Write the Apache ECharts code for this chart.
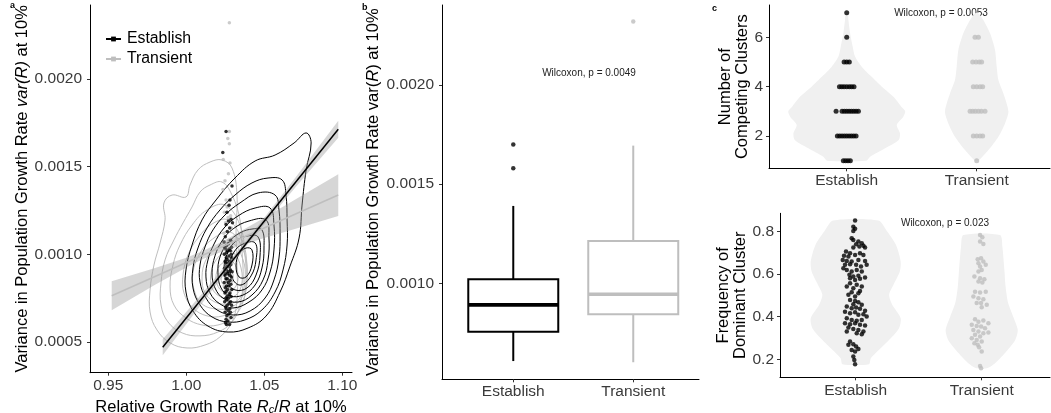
<!DOCTYPE html>
<html><head><meta charset="utf-8">
<script src="https://cdn.jsdelivr.net/npm/echarts@6/dist/echarts.min.js"></script>
<style>html,body{margin:0;padding:0;background:#fff}#c{width:1051px;height:413px}</style>
</head><body><div id="c"></div>
<script>
// ---------- Panel a: scatter values ----------
const estX = [1.0255,1.0234,1.0293,1.0280,1.0274,1.0261,1.0287,1.0270,1.0296,1.0255,1.0278,1.0263,1.0250,1.0284,1.0242,1.0271,1.0258,1.0290,1.0246,1.0276,1.0253,1.0282,1.0265,
 1.0259,1.0288,1.0244,1.0273,1.0256,1.0291,1.0262,1.0249,1.0279,1.0268,1.0252,1.0285,1.0260,1.0275,1.0245,1.0283,1.0257,1.0270,1.0294,1.0251,1.0266,
 1.0277,1.0247,1.0289,1.0263,1.0254,1.0281,1.0269,1.0243,1.0286,1.0258,1.0272,1.0250,1.0292,1.0264,1.0255,1.0280,1.0248,1.0276,1.0261,1.0287,1.0253,
 1.0270,1.0259,1.0284,1.0246,1.0274,1.0262,1.0290,1.0252,1.0279,1.0256,1.0268,1.0283,1.0249,1.0272,1.0260,1.0287,1.0255,1.0266,1.0251,1.0277,1.0258];
const estVar = [0.00170,0.00158,0.00139,0.00131,0.00128,0.00124,0.00120,0.00119,0.00118,0.00117,0.00115,0.00113,0.00110,0.00108,0.00107,0.00106,0.00105,0.00104,0.00104,0.00103,0.00103,0.00102,0.00102,
 0.00101,0.00100,0.00100,0.00099,0.00098,0.00098,0.00097,0.00096,0.00096,0.00095,0.00095,0.00094,0.00093,0.00093,0.00092,0.00091,0.00091,0.00090,0.00090,0.00089,0.00089,
 0.00088,0.00088,0.00087,0.00086,0.00086,0.00085,0.00084,0.00084,0.00083,0.00082,0.00082,0.00081,0.00080,0.00080,0.00079,0.00078,0.00078,0.00077,0.00076,0.00076,0.00075,
 0.00075,0.00074,0.00073,0.00073,0.00072,0.00071,0.00071,0.00070,0.00069,0.00069,0.00068,0.00067,0.00067,0.00066,0.00065,0.00064,0.00063,0.00062,0.00061,0.00060,0.00060];
const trnX = [1.0276,1.0276,1.0266,1.0276,1.0237,1.0280,1.0270,1.0248,1.0235,1.0255,1.0262,1.0244,1.0284,
 1.0268,1.0252,1.0289,1.0241,1.0273,1.0258,1.0286,1.0247,1.0279,1.0264,1.0250,
 1.0291,1.0257,1.0272,1.0245,1.0283,1.0262,1.0239,1.0277,1.0254,1.0288,1.0266,1.0249,
 1.0274,1.0243,1.0281,1.0259,1.0269,1.0251,1.0286,1.0261,1.0246,1.0278,1.0256];
const trnVar = [0.00232,0.00170,0.00166,0.00163,0.00154,0.00152,0.00146,0.00142,0.00137,0.00131,0.00127,0.00124,0.00122,
 0.00121,0.00118,0.00115,0.00112,0.00108,0.00105,0.00102,0.00100,0.00098,0.00096,0.00095,
 0.00095,0.00094,0.00093,0.00092,0.00091,0.00090,0.00089,0.00088,0.00087,0.00086,0.00085,0.00084,
 0.00083,0.00082,0.00080,0.00078,0.00076,0.00074,0.00072,0.00070,0.00067,0.00064,0.00060];

// regression lines and confidence bands
const estLineX = [0.9849, 1.0974];
const estLineY = [0.000470, 0.001713];
const trnLineX = [0.9522, 1.0974];
const trnLineY = [0.000764, 0.001338];
const estBandX  = [0.9849, 1.01, 1.04, 1.07, 1.0974];
const estBandLo = [0.000424, 0.000719, 0.001064, 0.001382, 0.001665];
const estBandHi = [0.000516, 0.000775, 0.001094, 0.001438, 0.001761];
const trnBandX  = [0.9522, 0.98, 1.0, 1.011, 1.025, 1.05, 1.075, 1.0974];
const trnBandLo = [0.000681, 0.000826, 0.000925, 0.000974, 0.001022, 0.001093, 0.001159, 0.001219];
const trnBandHi = [0.000847, 0.000922, 0.000981, 0.001020, 0.001082, 0.001209, 0.001339, 0.001457];

// 2D density contours (outer to inner)
const estContours = [
 [[1.0768,0.001692],[1.0800,0.001635],[1.0768,0.001481],[1.0742,0.001281],[1.0723,0.001093],[1.0665,0.000933],[1.0601,0.000785],[1.0511,0.000648],[1.0396,0.000580],[1.0268,0.000557],[1.0139,0.000591],[1.0043,0.000677],[0.9998,0.000785],[0.9998,0.000911],[1.0037,0.001053],[1.0101,0.001196],[1.0191,0.001310],[1.0312,0.001435],[1.0441,0.001532],[1.0569,0.001566],[1.0691,0.001635]],
 [[1.0614,0.001424],[1.0639,0.001338],[1.0646,0.001196],[1.0646,0.001053],[1.0620,0.000911],[1.0569,0.000785],[1.0485,0.000683],[1.0376,0.000626],[1.0267,0.000614],[1.0165,0.000643],[1.0088,0.000711],[1.0043,0.000808],[1.0043,0.000922],[1.0075,0.001036],[1.0133,0.001150],[1.0216,0.001253],[1.0312,0.001338],[1.0421,0.001407],[1.0524,0.001435]],
 [[1.0569,0.001338],[1.0594,0.001253],[1.0601,0.001110],[1.0594,0.000979],[1.0562,0.000854],[1.0505,0.000751],[1.0409,0.000677],[1.0300,0.000654],[1.0197,0.000683],[1.0126,0.000751],[1.0088,0.000842],[1.0088,0.000939],[1.0120,0.001042],[1.0171,0.001139],[1.0248,0.001224],[1.0344,0.001293],[1.0460,0.001350]],
 [[1.0537,0.001264],[1.0562,0.001167],[1.0562,0.001025],[1.0537,0.000899],[1.0485,0.000797],[1.0402,0.000728],[1.0300,0.000694],[1.0216,0.000717],[1.0152,0.000780],[1.0126,0.000871],[1.0139,0.000968],[1.0178,0.001059],[1.0242,0.001150],[1.0332,0.001219],[1.0441,0.001264]],
 [[1.0511,0.001196],[1.0530,0.001093],[1.0524,0.000968],[1.0492,0.000854],[1.0421,0.000768],[1.0332,0.000728],[1.0242,0.000746],[1.0184,0.000808],[1.0165,0.000894],[1.0184,0.000991],[1.0229,0.001076],[1.0300,0.001145],[1.0402,0.001190]],
 [[1.0485,0.001139],[1.0498,0.001036],[1.0485,0.000922],[1.0441,0.000825],[1.0364,0.000768],[1.0280,0.000763],[1.0223,0.000808],[1.0203,0.000894],[1.0216,0.000985],[1.0267,0.001065],[1.0344,0.001122],[1.0428,0.001145]],
 [[1.0460,0.001099],[1.0473,0.000996],[1.0447,0.000882],[1.0389,0.000808],[1.0312,0.000797],[1.0261,0.000842],[1.0242,0.000922],[1.0267,0.001013],[1.0319,0.001076],[1.0396,0.001105]],
 [[1.0441,0.001065],[1.0447,0.000968],[1.0415,0.000877],[1.0351,0.000825],[1.0300,0.000854],[1.0280,0.000934],[1.0306,0.001013],[1.0364,0.001059]],
 [[1.0421,0.001025],[1.0421,0.000939],[1.0383,0.000871],[1.0338,0.000871],[1.0319,0.000934],[1.0338,0.001002],[1.0383,0.001036]]
];
const trnContours = [
 [[1.0229,0.001538],[1.0293,0.001492],[1.0325,0.001338],[1.0319,0.001139],[1.0325,0.000939],[1.0325,0.000740],[1.0293,0.000614],[1.0216,0.000529],[1.0120,0.000483],[1.0005,0.000466],[0.9896,0.000495],[0.9812,0.000569],[0.9768,0.000671],[0.9768,0.000797],[0.9793,0.000939],[0.9832,0.001065],[0.9864,0.001196],[0.9857,0.001293],[0.9909,0.001338],[0.9998,0.001327],[1.0024,0.001395],[1.0075,0.001481],[1.0152,0.001526]],
 [[1.0229,0.001412],[1.0293,0.001338],[1.0344,0.001196],[1.0357,0.001025],[1.0364,0.000854],[1.0344,0.000711],[1.0293,0.000614],[1.0203,0.000557],[1.0088,0.000535],[0.9973,0.000552],[0.9883,0.000614],[0.9838,0.000711],[0.9838,0.000837],[0.9864,0.000968],[0.9921,0.001082],[0.9979,0.001179],[1.0037,0.001270],[1.0088,0.001355],[1.0152,0.001395]],
 [[1.0248,0.001281],[1.0344,0.001167],[1.0376,0.000996],[1.0383,0.000825],[1.0357,0.000711],[1.0293,0.000637],[1.0203,0.000597],[1.0101,0.000597],[0.9998,0.000637],[0.9921,0.000711],[0.9896,0.000814],[0.9915,0.000939],[0.9960,0.001053],[1.0037,0.001167],[1.0133,0.001253]],
 [[1.0267,0.001196],[1.0357,0.001082],[1.0389,0.000939],[1.0383,0.000797],[1.0332,0.000694],[1.0235,0.000649],[1.0133,0.000649],[1.0043,0.000694],[0.9985,0.000780],[0.9979,0.000882],[1.0011,0.000996],[1.0075,0.001093],[1.0165,0.001173]],
 [[1.0280,0.001127],[1.0364,0.001025],[1.0389,0.000899],[1.0364,0.000768],[1.0293,0.000700],[1.0197,0.000688],[1.0101,0.000717],[1.0050,0.000797],[1.0043,0.000899],[1.0082,0.000996],[1.0152,0.001076]],
 [[1.0293,0.001065],[1.0364,0.000968],[1.0376,0.000854],[1.0344,0.000751],[1.0267,0.000717],[1.0184,0.000728],[1.0120,0.000780],[1.0101,0.000871],[1.0126,0.000968],[1.0191,0.001036]],
 [[1.0300,0.001013],[1.0351,0.000922],[1.0351,0.000814],[1.0300,0.000757],[1.0223,0.000757],[1.0165,0.000808],[1.0159,0.000894],[1.0191,0.000968],[1.0248,0.001013]],
 [[1.0300,0.000956],[1.0332,0.000877],[1.0306,0.000803],[1.0242,0.000785],[1.0197,0.000831],[1.0197,0.000905],[1.0242,0.000956]],
 [[1.0287,0.000911],[1.0300,0.000854],[1.0267,0.000820],[1.0229,0.000837],[1.0229,0.000888],[1.0255,0.000917]]
];
const aXTicks = [0.95, 1.00, 1.05, 1.10];
const aYTicks = [0.0005, 0.0010, 0.0015, 0.0020];

// ---------- Panel b: box plot ----------
const boxCategories = ['Establish', 'Transient'];
const boxMin    = [0.000608, 0.000602];
const boxQ1     = [0.000756, 0.000844];
const boxMedian = [0.000891, 0.000945];
const boxQ3     = [0.001020, 0.001213];
const boxMax    = [0.001390, 0.001694];
const estOutliers = [0.00170, 0.00158];
const trnOutliers = [0.00232];
const bYTicks = [0.0010, 0.0015, 0.0020];

// ---------- Panel c (top): number of competing clusters ----------
const estClusters    = [7,6,5,5,5,4,4,4,4,4,4,4,3,3,3,3,3,3,3,3,3,2,2,2,2,2,2,2,2,2,1,1,1,1];
const estClustersJit = [0,0,-0.02,0,0.02,-0.056,-0.038,-0.02,0,0.02,0.038,0.056,-0.082,-0.036,-0.018,0,0.018,0.036,0.054,0.072,0.09,-0.072,-0.054,-0.036,-0.018,0,0.018,0.036,0.054,0.072,-0.026,-0.008,0.01,0.028];
const trnClusters    = [6,6,5,5,5,5,4,4,4,4,3,3,3,3,3,3,2,2,2,2,1];
const trnClustersJit = [-0.013,0.013,-0.031,-0.005,0.02,0.038,-0.026,0,0.026,0.046,-0.051,-0.031,-0.01,0.013,0.036,0.064,-0.026,0,0.026,0.046,0];
const estClViolinV = [7, 6.7, 6.16, 5.62, 5.22, 4.81, 4.41, 4, 3.59, 3.19, 3, 2.78, 2.45, 2.11, 1.84, 1.5, 1.16, 1];
const estClViolinW = [0.008, 0.013, 0.026, 0.046, 0.064, 0.115, 0.19, 0.27, 0.36, 0.42, 0.45, 0.435, 0.385, 0.41, 0.40, 0.295, 0.18, 0.15];
const trnClViolinV = [6.97, 6.7, 6.16, 5.49, 4.81, 4.27, 3.73, 2.99, 2.51, 1.97, 1.43, 1];
const trnClViolinW = [0.013, 0.051, 0.103, 0.141, 0.154, 0.167, 0.205, 0.244, 0.218, 0.167, 0.09, 0.013];
const cTopYTicks = [2, 4, 6];

// ---------- Panel c (bottom): frequency of dominant cluster ----------
const estFreq = [0.852,0.823,0.813,0.803,0.769,0.761,0.753,0.745,0.741,0.734,0.730,0.725,0.725,0.706,0.698,0.687,0.683,0.690,0.698,0.690,0.667,0.662,0.659,0.667,0.662,0.644,0.647,0.644,0.636,0.644,0.620,0.612,0.620,0.612,0.628,0.597,0.589,0.593,0.573,0.581,0.578,0.584,0.557,0.550,0.542,0.542,0.534,0.515,0.510,0.503,0.495,0.521,0.479,0.474,0.468,0.459,0.456,0.448,0.440,0.443,0.437,0.428,0.424,0.417,0.421,0.409,0.412,0.401,0.393,0.385,0.381,0.385,0.370,0.365,0.370,0.362,0.359,0.349,0.343,0.338,0.331,0.331,0.318,0.323,0.284,0.271,0.260,0.268,0.249,0.244,0.237,0.213,0.197,0.177];
const estFreqJit = [-0.005,-0.019,-0.005,-0.019,-0.032,-0.019,0.021,0.048,0.003,0.061,0.029,-0.019,0.074,-0.077,-0.045,-0.093,-0.058,-0.005,0.034,0.061,-0.103,-0.071,-0.032,0.021,0.074,-0.085,-0.045,0.003,0.042,0.087,-0.071,-0.032,0.008,0.048,-0.098,-0.050,-0.019,0.021,-0.005,-0.045,0.034,0.074,-0.045,0.008,0.048,-0.071,-0.019,-0.032,0.021,-0.058,-0.005,0.034,-0.045,-0.005,0.021,-0.019,0.048,-0.071,-0.032,0.003,0.034,0.074,-0.085,-0.045,-0.005,0.021,0.061,0.087,-0.071,-0.032,0.008,0.048,-0.085,-0.045,-0.005,0.034,0.074,-0.058,-0.019,0.021,0.061,-0.071,0.048,0.008,-0.045,-0.019,0.003,-0.058,0.021,-0.032,-0.005,-0.019,-0.011,-0.005];
const trnFreq = [0.784,0.773,0.753,0.742,0.670,0.675,0.659,0.651,0.644,0.636,0.620,0.612,0.589,0.581,0.576,0.565,0.561,0.518,0.514,0.518,0.495,0.487,0.482,0.464,0.464,0.456,0.445,0.388,0.377,0.382,0.370,0.362,0.357,0.354,0.346,0.338,0.331,0.323,0.326,0.315,0.307,0.299,0.291,0.284,0.276,0.268,0.257,0.237,0.169,0.158];
const trnFreqJit = [-0.013,0.005,-0.013,0.013,-0.032,-0.005,0.013,-0.026,0.032,-0.013,0,-0.026,-0.058,-0.013,0.021,-0.026,0.005,-0.053,-0.013,0.032,-0.066,-0.026,0.013,-0.005,-0.040,0.040,0,-0.053,-0.026,0.013,0.053,-0.079,-0.040,-0.005,0.026,-0.066,-0.026,0.013,0.053,-0.053,-0.013,-0.079,-0.040,0,-0.058,-0.032,-0.021,0,-0.013,-0.005];
const estFrViolinV = [0.852, 0.8, 0.737, 0.659, 0.612, 0.55, 0.503, 0.456, 0.393, 0.346, 0.3, 0.253, 0.205, 0.177];
const estFrViolinW = [0.18, 0.25, 0.32, 0.357, 0.35, 0.30, 0.265, 0.29, 0.357, 0.344, 0.28, 0.2, 0.12, 0.105];
const trnFrViolinV = [0.784, 0.73, 0.62, 0.54, 0.464, 0.40, 0.338, 0.29, 0.23, 0.182, 0.158];
const trnFrViolinW = [0.145, 0.164, 0.18, 0.19, 0.21, 0.25, 0.286, 0.265, 0.185, 0.106, 0.04];
const cBotYTicks = [0.2, 0.4, 0.6, 0.8];

// ---------- rendering ----------
const FONT = '"Liberation Sans", Arial, Helvetica, sans-serif';
const TICK_FS = 15.5, TITLE_FS = 16.5;
const BLACK = '#000000', GREY = '#bebebe', VIOLIN = '#f0f0f0';
const chart = echarts.init(document.getElementById('c'), null, {renderer: 'canvas'});

function polySeries(gi, pts, style, z, smooth) {
  return {type: 'custom', xAxisIndex: gi, yAxisIndex: gi, silent: true, z: z, clip: true,
    data: [pts[0]],
    renderItem: function (params, api) {
      return {type: 'polygon', shape: {points: pts.map(function (q) { return api.coord(q); }), smooth: smooth},
        style: style};
    }};
}
function bandPts(xs, lo, hi) {
  const p = [];
  for (let i = 0; i < xs.length; i++) p.push([xs[i], hi[i]]);
  for (let i = xs.length - 1; i >= 0; i--) p.push([xs[i], lo[i]]);
  return p;
}
function violinPts(pos, vs, ws) {
  const p = [];
  for (let i = 0; i < vs.length; i++) p.push([pos + ws[i], vs[i]]);
  for (let i = vs.length - 1; i >= 0; i--) p.push([pos - ws[i], vs[i]]);
  return p;
}
function zip(xs, ys) { return xs.map(function (x, i) { return [x, ys[i]]; }); }
function jit(pos, js, ys) { return js.map(function (j, i) { return [pos + j, ys[i]]; }); }

function valAxis(gi, min, max, ticks, fmt, margin, extra) {
  return Object.assign({
    gridIndex: gi, type: 'value', min: min, max: max,
    axisLine: {show: true, onZero: false, lineStyle: {color: '#000', width: 1}},
    splitLine: {show: false},
    axisTick: {show: true, length: 3, lineStyle: {color: '#333'}, customValues: ticks},
    axisLabel: {customValues: ticks, formatter: fmt, margin: margin,
      fontFamily: FONT, fontSize: TICK_FS, color: '#3a3a3a'},
    nameTextStyle: {fontFamily: FONT, fontSize: TITLE_FS, color: '#000'}
  }, extra || {});
}
const catFmt = function (v) { return boxCategories[Math.round(v) - 1]; };
const f4 = function (v) { return v.toFixed(4); };

const series = [];
trnContours.forEach(function (c) {
  series.push(polySeries(0, c, {fill: null, stroke: GREY, lineWidth: 1}, 1, 0.4));
});
estContours.forEach(function (c) {
  series.push(polySeries(0, c, {fill: null, stroke: BLACK, lineWidth: 1}, 2, 0.4));
});
series.push({type: 'scatter', xAxisIndex: 0, yAxisIndex: 0, z: 3, silent: true, symbolSize: 3.5,
  itemStyle: {color: GREY}, data: zip(trnX, trnVar)});
series.push({type: 'scatter', xAxisIndex: 0, yAxisIndex: 0, z: 4, silent: true, symbolSize: 3.5,
  itemStyle: {color: BLACK}, data: zip(estX, estVar)});
series.push(polySeries(0, bandPts(trnBandX, trnBandLo, trnBandHi), {fill: 'rgba(153,153,153,0.4)', stroke: null}, 5, 0));
series.push(polySeries(0, bandPts(estBandX, estBandLo, estBandHi), {fill: 'rgba(153,153,153,0.4)', stroke: null}, 5, 0));
series.push({type: 'line', name: 'Transient', xAxisIndex: 0, yAxisIndex: 0, z: 6, silent: true,
  showSymbol: false, symbol: 'rect', symbolSize: 4, color: GREY, lineStyle: {color: GREY, width: 1.5},
  itemStyle: {color: GREY}, data: zip(trnLineX, trnLineY)});
series.push({type: 'line', name: 'Establish', xAxisIndex: 0, yAxisIndex: 0, z: 7, silent: true,
  showSymbol: false, symbol: 'rect', symbolSize: 4, color: BLACK, lineStyle: {color: BLACK, width: 1.5},
  itemStyle: {color: BLACK}, data: zip(estLineX, estLineY)});

series.push({type: 'custom', xAxisIndex: 1, yAxisIndex: 1, z: 3, silent: true,
  encode: {x: 0, y: [1, 2, 3, 4, 5]},
  data: boxCategories.map(function (c, i) { return [i + 1, boxMin[i], boxQ1[i], boxMedian[i], boxQ3[i], boxMax[i]]; }),
  renderItem: function (params, api) {
    const x = api.value(0);
    const col = params.dataIndex === 0 ? BLACK : GREY;
    const hw = api.size([0.75, 0])[0] / 2;
    const pMin = api.coord([x, api.value(1)]), pQ1 = api.coord([x, api.value(2)]),
      pMd = api.coord([x, api.value(3)]), pQ3 = api.coord([x, api.value(4)]), pMx = api.coord([x, api.value(5)]);
    return {type: 'group', children: [
      {type: 'line', shape: {x1: pMin[0], y1: pMin[1], x2: pQ1[0], y2: pQ1[1]}, style: {stroke: col, lineWidth: 2}},
      {type: 'line', shape: {x1: pQ3[0], y1: pQ3[1], x2: pMx[0], y2: pMx[1]}, style: {stroke: col, lineWidth: 2}},
      {type: 'rect', shape: {x: pQ1[0] - hw, y: pQ3[1], width: hw * 2, height: pQ1[1] - pQ3[1]},
        style: {fill: '#fff', stroke: col, lineWidth: 2}},
      {type: 'line', shape: {x1: pMd[0] - hw, y1: pMd[1], x2: pMd[0] + hw, y2: pMd[1]}, style: {stroke: col, lineWidth: 3.6}}
    ]};
  }});
series.push({type: 'scatter', xAxisIndex: 1, yAxisIndex: 1, z: 4, silent: true, symbolSize: 4.5,
  itemStyle: {color: BLACK}, data: estOutliers.map(function (v) { return [1, v]; })});
series.push({type: 'scatter', xAxisIndex: 1, yAxisIndex: 1, z: 4, silent: true, symbolSize: 4.5,
  itemStyle: {color: GREY}, data: trnOutliers.map(function (v) { return [2, v]; })});

series.push(polySeries(2, violinPts(1, estClViolinV, estClViolinW), {fill: VIOLIN, stroke: null}, 1, 0.25));
series.push(polySeries(2, violinPts(2, trnClViolinV, trnClViolinW), {fill: VIOLIN, stroke: null}, 1, 0.25));
series.push({type: 'scatter', xAxisIndex: 2, yAxisIndex: 2, z: 3, silent: true, symbolSize: 5,
  itemStyle: {color: BLACK}, data: jit(1, estClustersJit, estClusters)});
series.push({type: 'scatter', xAxisIndex: 2, yAxisIndex: 2, z: 3, silent: true, symbolSize: 5,
  itemStyle: {color: GREY}, data: jit(2, trnClustersJit, trnClusters)});

series.push(polySeries(3, violinPts(1, estFrViolinV, estFrViolinW), {fill: VIOLIN, stroke: null}, 1, 0.25));
series.push(polySeries(3, violinPts(2, trnFrViolinV, trnFrViolinW), {fill: VIOLIN, stroke: null}, 1, 0.25));
series.push({type: 'scatter', xAxisIndex: 3, yAxisIndex: 3, z: 3, silent: true, symbolSize: 4.5,
  itemStyle: {color: BLACK}, data: jit(1, estFreqJit, estFreq)});
series.push({type: 'scatter', xAxisIndex: 3, yAxisIndex: 3, z: 3, silent: true, symbolSize: 4.5,
  itemStyle: {color: GREY}, data: jit(2, trnFreqJit, trnFreq)});

const grids = [
  {left: 90, top: 5, width: 262, height: 367.7},
  {left: 442, top: 5, width: 257, height: 374.3},
  {left: 769, top: 5, width: 281, height: 163.3},
  {left: 780, top: 213.3, width: 270, height: 164}
].map(function (g) { return Object.assign({containLabel: false, outerBoundsMode: 'none'}, g); });

const richItalic = {i: {fontStyle: 'italic', fontSize: TITLE_FS, fontFamily: FONT}};
const option = {
  animation: false,
  backgroundColor: '#fff',
  textStyle: {fontFamily: FONT},
  grid: grids,
  legend: {data: ['Establish', 'Transient'], orient: 'vertical', left: 100, top: 26,
    itemWidth: 15, itemHeight: 6, itemGap: 4, selectedMode: false,
    textStyle: {fontFamily: FONT, fontSize: 15.8, color: '#000', padding: [0, 0, 0, 1]}},
  xAxis: [
    valAxis(0, 0.9383, 1.1062, aXTicks, function (v) { return v.toFixed(2); }, 5, {
      name: 'Relative Growth Rate {i|R}{s|c}{n|/}{i|R} at 10%', nameLocation: 'middle', nameGap: 19,
      nameTextStyle: {fontFamily: FONT, fontSize: TITLE_FS, color: '#000',
        rich: {i: {fontStyle: 'italic', fontSize: TITLE_FS, fontFamily: FONT},
               s: {fontStyle: 'italic', fontSize: 11, fontFamily: FONT, verticalAlign: 'bottom', padding: [6, 0, 0, 0]},
               n: {fontSize: TITLE_FS, fontFamily: FONT}}}}),
    valAxis(1, 0.406, 2.548, [1, 2], catFmt, 4),
    valAxis(2, 0.402, 2.564, [1, 2], catFmt, 4),
    valAxis(3, 0.399, 2.542, [1, 2], catFmt, 5)
  ],
  yAxis: [
    valAxis(0, 0.000325, 0.0024215, aYTicks, f4, 8, {
      name: 'Variance in Population Growth Rate {i|var(R)} at 10%', nameLocation: 'middle', nameGap: 58, nameRotate: 90,
      nameTextStyle: {fontFamily: FONT, fontSize: TITLE_FS, color: '#000', rich: richItalic}}),
    valAxis(1, 0.000516, 0.002403, bYTicks, f4, 8, {
      name: 'Variance in Population Growth Rate var({i|R}) at 10%', nameLocation: 'middle', nameGap: 60, nameRotate: 90,
      nameTextStyle: {fontFamily: FONT, fontSize: TITLE_FS, color: '#000', rich: richItalic}}),
    valAxis(2, 0.69, 7.31, cTopYTicks, function (v) { return String(v); }, 6, {
      name: 'Number of\nCompeting Clusters', nameLocation: 'middle', nameGap: 15, nameRotate: 90,
      nameTextStyle: {fontFamily: FONT, fontSize: TITLE_FS, color: '#000', lineHeight: 17}}),
    valAxis(3, 0.1155, 0.886, cBotYTicks, function (v) { return v.toFixed(1); }, 6, {
      name: 'Frequency of\nDominant Cluster', nameLocation: 'middle', nameGap: 29, nameRotate: 90,
      nameTextStyle: {fontFamily: FONT, fontSize: TITLE_FS, color: '#000', lineHeight: 17}})
  ],
  graphic: [
    {type: 'text', left: 10, top: 1, style: {text: 'a', fontSize: 9, fontWeight: 'bold', fontFamily: FONT, fill: '#000'}},
    {type: 'text', left: 362, top: 3, style: {text: 'b', fontSize: 9, fontWeight: 'bold', fontFamily: FONT, fill: '#000'}},
    {type: 'text', left: 712, top: 4, style: {text: 'c', fontSize: 9, fontWeight: 'bold', fontFamily: FONT, fill: '#000'}},
    {type: 'text', x: 589, y: 73, style: {text: 'Wilcoxon, p = 0.0049', fontSize: 10, fontFamily: FONT, fill: '#222', align: 'center', verticalAlign: 'middle'}},
    {type: 'text', x: 941, y: 13, style: {text: 'Wilcoxon, p = 0.0053', fontSize: 10, fontFamily: FONT, fill: '#222', align: 'center', verticalAlign: 'middle'}},
    {type: 'text', x: 945, y: 223, style: {text: 'Wilcoxon, p = 0.023', fontSize: 10, fontFamily: FONT, fill: '#222', align: 'center', verticalAlign: 'middle'}}
  ],
  series: series
};
chart.setOption(option);
</script></body></html>
